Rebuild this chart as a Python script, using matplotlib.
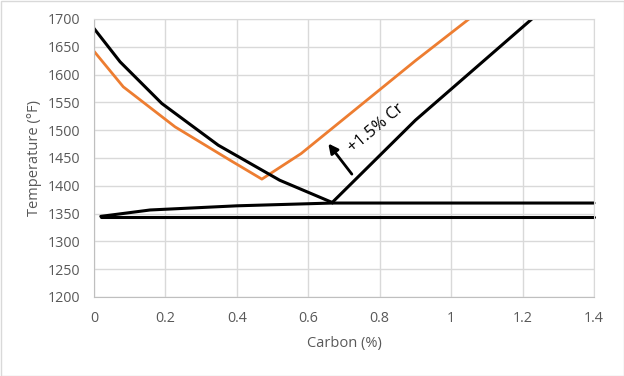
import matplotlib
matplotlib.use("Agg")
import matplotlib.pyplot as plt
from matplotlib.patches import Rectangle
from matplotlib.ticker import FuncFormatter

# Data
a3_c = [0, 0.073, 0.19, 0.348, 0.52, 0.667]
a3_t = [1683, 1623, 1548, 1473, 1410, 1370]
acm_c = [0.667, 0.9, 1.226]
acm_t = [1370, 1518, 1700]
cr_c = [0, 0.082, 0.227, 0.381, 0.47, 0.58, 0.9, 1.05]
cr_t = [1642, 1578, 1506, 1446, 1412, 1458, 1625, 1700]
a1_c = [0.019, 0.157, 0.4, 0.667, 1.4]
a1_t = [1345, 1356.5, 1364, 1369, 1369]
low_c = [0.019, 1.4]
low_t = [1344, 1344]

x_ticks = [0, 0.2, 0.4, 0.6, 0.8, 1.0, 1.2, 1.4]
y_ticks = list(range(1200, 1701, 50))

plt.rcParams['font.family'] = ['Open Sans', 'DejaVu Sans']

fig = plt.figure(figsize=(6.24, 3.76), dpi=100)
ax = fig.add_axes([94/624, 1-297/376, 500/624, 278/376])

grid_c = '#d9d9d9'
ax.set_xlim(0, 1.4)
ax.set_ylim(1200, 1700)
ax.set_xticks(x_ticks)
ax.set_yticks(y_ticks)
ax.xaxis.set_major_formatter(FuncFormatter(lambda v, p: f"{v:g}"))
ax.grid(True, color=grid_c, lw=1)
ax.set_axisbelow(True)
for s in ax.spines.values():
    s.set_color(grid_c)
ax.spines['left'].set_color('#bfbfbf')
ax.spines['bottom'].set_color('#bfbfbf')
ax.tick_params(length=0, labelsize=10.3, labelcolor='#595959')
ax.tick_params(axis='y', pad=10)
ax.tick_params(axis='x', pad=10)

lw = 2.2
ax.plot(low_c, low_t, color='black', lw=lw, solid_capstyle='round', clip_on=False)
ax.plot(a1_c, a1_t, color='black', lw=lw, solid_capstyle='round', clip_on=False)
ax.plot(cr_c, cr_t, color='#ED7D31', lw=2.0)
ax.plot(a3_c, a3_t, color='black', lw=lw)
ax.plot(acm_c, acm_t, color='black', lw=lw)

ax.annotate('', xy=(0.656, 1476), xytext=(0.722, 1421),
            arrowprops=dict(arrowstyle='-|>', color='black', lw=2.0,
                            mutation_scale=14, shrinkA=0, shrinkB=0))
ax.text(0.791, 1504, '+1.5% Cr', rotation=40, rotation_mode='anchor',
        ha='center', va='center', fontsize=11.8, color='black')

fig.text(344/624, 1-344/376, 'Carbon (%)', ha='center', va='center',
         fontsize=10.5, color='#595959')
fig.text(34/624, 1-158/376, 'Temperature (°F)', ha='center', va='center',
         rotation=90, fontsize=10.5, color='#595959')

fig.patches.append(Rectangle((0.5/624, 0.5/376), 1-1/624, 1-1/376,
                             transform=fig.transFigure, fill=False,
                             edgecolor='#d9d9d9', lw=1))

fig.savefig('out.png', dpi=100)
